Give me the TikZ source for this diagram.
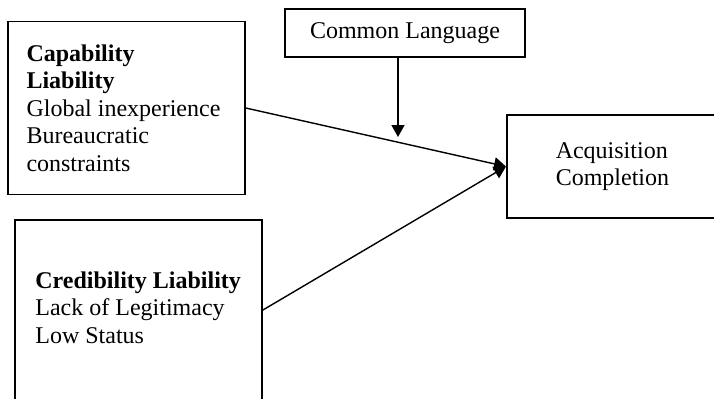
\documentclass[tikz,border=0pt]{standalone}
\usepackage{fontspec}
\setmainfont{Liberation Serif}
\usetikzlibrary{arrows.meta}

\begin{document}
\begin{tikzpicture}[x=0.5pt, y=-0.5pt,
  box/.style={draw, line width=0.75pt, inner sep=0pt, font=\fontsize{12}{13.8}\selectfont},
  txt/.style={inner sep=0pt, align=left, font=\fontsize{12}{13.8}\selectfont},
  arr/.style={-{Triangle[length=6pt, width=6.5pt]}, line width=0.7pt}
]
  \useasboundingbox (0,0) rectangle (714,398);

  \node[box, minimum width=118.5pt, minimum height=86.5pt, text width=100pt, align=flush left] (cap) at (126.5,108) {\textbf{Capability}\\\textbf{Liability}\\Global inexperience\\Bureaucratic\\constraints};
  \node[box, minimum width=123.5pt, minimum height=90.5pt, anchor=north west] (cred) at (14,219) {};
  \node[txt, anchor=north west] (credtxt) at (35,271) {\textbf{Credibility Liability}\\Lack of Legitimacy\\Low Status};
  \node[box, minimum width=120pt, minimum height=24pt] (lang) at (405,33) {Common Language};
  \node[box, minimum width=114pt, minimum height=51.5pt, text width=65pt, align=left, anchor=west] (acq) at (506,166.5) {Acquisition\\Completion};

  \coordinate (mod) at (398,137);
  \draw[arr] (cap.east) -- (acq.west);
  \draw[arr] (cred.east) -- (acq.west);
  \draw[arr] (lang.south -| mod) -- (mod);
\end{tikzpicture}
\end{document}
